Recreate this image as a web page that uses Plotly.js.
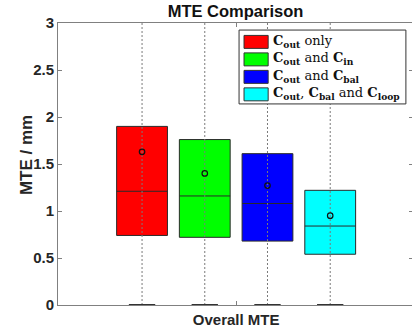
<!DOCTYPE html>
<html><head><meta charset="utf-8">
<script src="https://cdn.plot.ly/plotly-3.0.1.min.js"></script>
<style>html,body{margin:0;padding:0;overflow:hidden;background:#fff}</style>
</head><body><div id="chart"></div>
<script>
// ---- data ----
const seriesNames = [
  '<b>C</b><sub><b>out</b></sub> only',
  '<b>C</b><sub><b>out</b></sub> and <b>C</b><sub><b>in</b></sub>',
  '<b>C</b><sub><b>out</b></sub> and <b>C</b><sub><b>bal</b></sub>',
  '<b>C</b><sub><b>out</b></sub>, <b>C</b><sub><b>bal</b></sub> and <b>C</b><sub><b>loop</b></sub>'
];
const seriesColors = ['#ff0000', '#00ff00', '#0000ff', '#00ffff'];
const positions = [1, 2, 3, 4];
const q1Values = [0.74, 0.72, 0.68, 0.54];
const medianValues = [1.21, 1.16, 1.08, 0.84];
const q3Values = [1.90, 1.76, 1.61, 1.22];
const meanValues = [1.63, 1.40, 1.27, 0.95];
const whiskerLow = [0, 0, 0, 0];
const whiskerHigh = [3.6, 3.6, 3.6, 3.6];
const categoryLabel = ['Overall MTE'];
const categoryPosition = [2.5];
const yTicks = [0, 0.5, 1, 1.5, 2, 2.5, 3];
const yTickText = ['0', '0.5', '1', '1.5', '2', '2.5', '3'];

// ---- traces ----
const traces = [];
const capHalf = 0.21;
positions.forEach((p, i) => {
  traces.push({type: 'scatter', mode: 'lines', x: [p, p], y: [whiskerLow[i], whiskerHigh[i]],
    line: {color: '#7a7a7a', width: 1, dash: '2px,2px'}, showlegend: false, hoverinfo: 'skip'});
});
positions.forEach((p, i) => {
  traces.push({type: 'box', x0: p, q1: [q1Values[i]], median: [medianValues[i]], q3: [q3Values[i]],
    lowerfence: [q1Values[i]], upperfence: [q3Values[i]], width: 0.81, name: seriesNames[i],
    fillcolor: seriesColors[i], line: {color: '#2a2a2a', width: 1}, whiskerwidth: 0, showlegend: false});
});
positions.forEach((p, i) => {
  traces.push({type: 'scatter', mode: 'lines', x: [p - capHalf, p + capHalf], y: [whiskerLow[i], whiskerLow[i]],
    line: {color: '#333', width: 2}, showlegend: false, hoverinfo: 'skip', cliponaxis: false});
});
traces.push({type: 'scatter', mode: 'markers', x: positions, y: meanValues,
  marker: {symbol: 'circle-open', size: 5.5, color: '#111', line: {width: 1.2}}, showlegend: false});

// ---- custom legend ----
const L = {x0: 0.510, x1: 0.980, y0: 0.713, y1: 0.975};
const shapes = [{type: 'rect', xref: 'paper', yref: 'paper', x0: L.x0, x1: L.x1, y0: L.y0, y1: L.y1,
  fillcolor: '#fff', line: {color: '#333', width: 1}, layer: 'above'}];
const annotations = [];
seriesNames.forEach((n, i) => {
  const yc = 0.933 - i * 0.062;
  shapes.push({type: 'rect', xref: 'paper', yref: 'paper', x0: 0.524, x1: 0.592, y0: yc - 0.023, y1: yc + 0.023,
    fillcolor: seriesColors[i], line: {color: '#333', width: 1}, layer: 'above'});
  annotations.push({xref: 'paper', yref: 'paper', x: 0.600, y: yc + 0.003, xanchor: 'left', yanchor: 'middle',
    text: n, showarrow: false, font: {family: 'DejaVu Serif, serif', size: 13, color: '#111'}});
});
// y-axis title
annotations.push({xref: 'paper', yref: 'paper', x: -0.087, y: 0.532, xanchor: 'center', yanchor: 'middle',
  textangle: -90, text: '<b>MTE / mm</b>', showarrow: false,
  font: {family: 'Liberation Sans, Arial, sans-serif', size: 17, color: '#262626'}});

const axisCommon = {linecolor: '#808080', linewidth: 1, ticks: 'inside', ticklen: 4, tickcolor: '#808080',
  showgrid: false, zeroline: false, tickfont: {family: 'Liberation Sans, Arial, sans-serif', size: 15, color: '#262626', weight: 'bold'}};

const layout = {
  width: 413, height: 334,
  margin: {l: 58, r: 0, t: 23, b: 29},
  paper_bgcolor: '#fff', plot_bgcolor: '#fff',
  showlegend: false,
  title: {text: '<b>MTE Comparison</b>', x: 0.5, xref: 'paper', y: 0.967, yanchor: 'middle',
    font: {family: 'Liberation Sans, Arial, sans-serif', size: 16.5, color: '#111'}},
  xaxis: Object.assign({}, axisCommon, {range: [-0.34, 5.32], tickvals: categoryPosition, ticktext: categoryLabel,
    mirror: 'ticks', ticklabelstandoff: 1}),
  yaxis: Object.assign({}, axisCommon, {range: [0, 3], tickvals: yTicks, ticktext: yTickText, mirror: 'ticks'}),
  shapes: shapes, annotations: annotations
};
Plotly.newPlot('chart', traces, layout, {displayModeBar: false, staticPlot: true});
</script></body></html>
